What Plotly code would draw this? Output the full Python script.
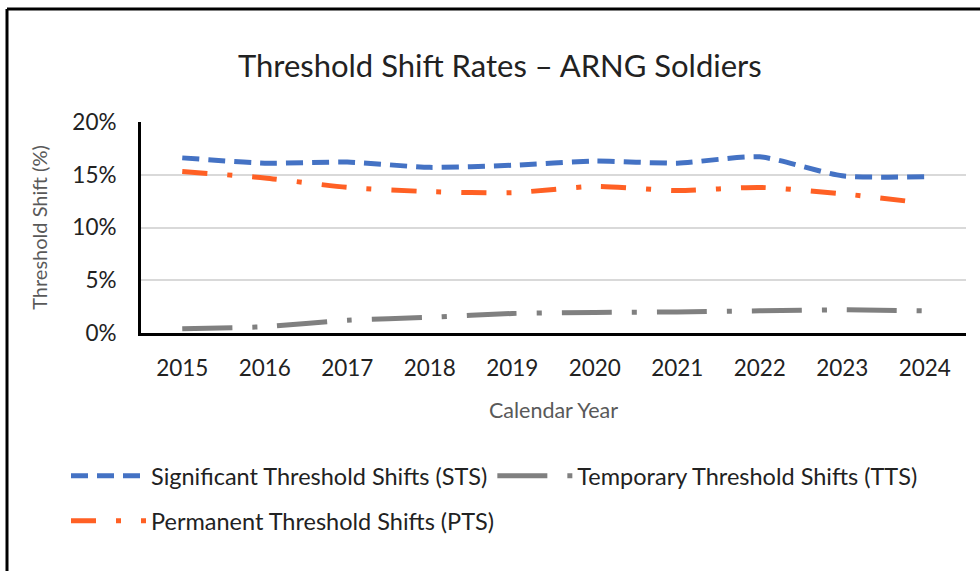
import plotly.graph_objects as go

years = ["2015", "2016", "2017", "2018", "2019", "2020", "2021", "2022", "2023", "2024"]
sts = [16.6, 16.1, 16.2, 15.7, 15.9, 16.3, 16.1, 16.7, 14.9, 14.8]
pts = [15.3, 14.7, 13.8, 13.4, 13.3, 13.9, 13.5, 13.8, 13.2, 12.3]
tts = [0.4, 0.6, 1.2, 1.5, 1.85, 1.95, 2.0, 2.1, 2.2, 2.1]
yticks = [0, 5, 10, 15, 20]
ytick_text = ["0%", "5%", "10%", "15%", "20%"]

FONT = "Lato"
fig = go.Figure()
fig.add_trace(go.Scatter(x=years, y=sts, mode="lines", name="Significant Threshold Shifts (STS)",
                         legend="legend",
                         line=dict(color="#4472C4", width=5, dash="17px,9px", shape="spline", smoothing=0.6)))
fig.add_trace(go.Scatter(x=years, y=tts, mode="lines", name="Temporary Threshold Shifts (TTS)",
                         legend="legend",
                         line=dict(color="#808080", width=5, dash="50px,20px,5px,20px", shape="spline", smoothing=0.6)))
fig.add_trace(go.Scatter(x=years, y=pts, mode="lines", name="Permanent Threshold Shifts (PTS)",
                         legend="legend2",
                         line=dict(color="#FF6024", width=5, dash="25px,20px,5px,20px", shape="spline", smoothing=0.6)))

ml, mr, mt, mb = 141, 14, 122, 238
W, H = 980, 571
pw, ph = W - ml - mr, H - mt - mb

def px2x(px):
    return (px - ml) / pw

def py2y(py):
    return (H - mb - py) / ph

legend_common = dict(orientation="h", xanchor="left", yanchor="middle",
                     font=dict(size=23.5, color="#222222"), itemwidth=75,
                     bgcolor="rgba(0,0,0,0)")

fig.update_layout(
    width=W, height=H,
    margin=dict(l=ml, r=mr, t=mt, b=mb, pad=0),
    paper_bgcolor="white", plot_bgcolor="white",
    font=dict(family=FONT, color="#222222"),
    title=dict(text="Threshold Shift Rates – ARNG Soldiers", x=0.51, xanchor="center",
               y=1 - 66 / H, yanchor="middle", font=dict(size=31, color="#222222", family=FONT)),
    xaxis=dict(type="category", range=[-0.5, 9.5], showgrid=False, showline=True, linecolor="black",
               linewidth=3, ticks="", tickfont=dict(size=22.5, color="#222222"), ticklabelstandoff=13,
               title=dict(text="Calendar Year", font=dict(size=21.5, color="#595959"), standoff=23)),
    yaxis=dict(range=[0, 20], tickvals=yticks, ticktext=ytick_text, showgrid=True, gridcolor="#D9D9D9",
               gridwidth=2, showline=True, linecolor="black", linewidth=3, ticks="", zeroline=False,
               tickfont=dict(size=22.5, color="#222222"), ticklabelstandoff=17,
               title=dict(text="Threshold Shift (%)", font=dict(size=20, color="#595959"), standoff=20)),
    legend=dict(x=px2x(66), y=py2y(476), **legend_common),
    legend2=dict(x=px2x(66), y=py2y(521), **legend_common),
    showlegend=True,
)
fig.add_shape(type="line", xref="paper", yref="paper", x0=px2x(7), x1=px2x(985), y0=py2y(9), y1=py2y(9),
              line=dict(color="black", width=3))
fig.add_shape(type="line", xref="paper", yref="paper", x0=px2x(7), x1=px2x(7), y0=py2y(9), y1=py2y(580),
              line=dict(color="black", width=3))
fig.write_html("out.html", config={"displayModeBar": False},
               post_script="document.body.style.margin='0px';")
